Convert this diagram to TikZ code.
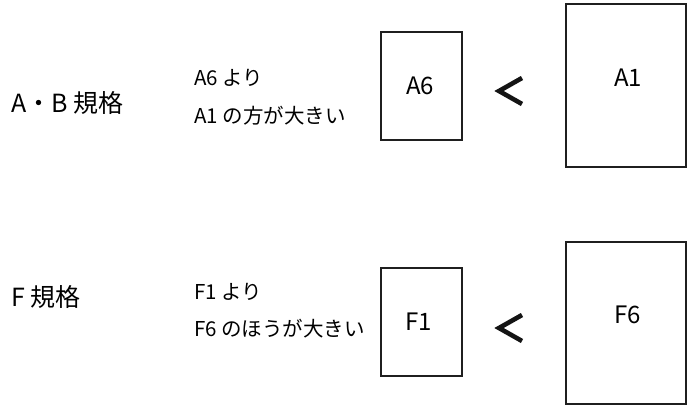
\documentclass[tikz,border=0pt]{standalone}
\usepackage{fontspec}
\setmainfont{Noto Sans CJK JP}
\begin{document}
\begin{tikzpicture}[x=1pt,y=-1pt,
  paper/.style={draw=black!88,line width=1.8pt,inner sep=0pt},
  big/.style={font=\fontsize{25}{28}\selectfont,inner sep=0pt,anchor=west},
  small/.style={font=\fontsize{20.5}{23}\selectfont,inner sep=0pt,anchor=west},
  lbl/.style={font=\fontsize{24}{26}\selectfont,inner sep=0pt},
  lt/.style={line width=4.6pt,draw=black!92,miter limit=10}]
\useasboundingbox (0,0) rectangle (688,405);
% A/B row
\node[big] (ab) at (11,103) {A・B 規格};
\node[small] (a6t) at (194,78) {A6 より};
\node[small] (a1t) at (194,116) {A1 の方が大きい};
\node[paper,minimum width=81pt,minimum height=108pt] (a6) at (421.5,86) {};
\node[lbl] (a6l) at (420,86) {A6};
\node[paper,minimum width=120pt,minimum height=163pt] (a1) at (626,85.5) {};
\node[lbl] (a1l) at (628,78) {A1};
\coordinate (lta) at (522,78);
\coordinate (ltb) at (499,91);
\coordinate (ltc) at (522,104);
\draw[lt] (lta) -- (ltb) -- (ltc);
% F row
\node[big] (f) at (11,297) {F 規格};
\node[small] (f1t) at (194,292) {F1 より};
\node[small] (f6t) at (194,329) {F6 のほうが大きい};
\node[paper,minimum width=81pt,minimum height=108pt] (f1) at (421.5,322) {};
\node[lbl] (f1l) at (419,322) {F1};
\node[paper,minimum width=120pt,minimum height=162pt] (f6) at (626,323) {};
\node[lbl] (f6l) at (628,315) {F6};
\coordinate (lfa) at (522,315);
\coordinate (lfb) at (499,328);
\coordinate (lfc) at (522,341);
\draw[lt] (lfa) -- (lfb) -- (lfc);
\end{tikzpicture}
\end{document}
